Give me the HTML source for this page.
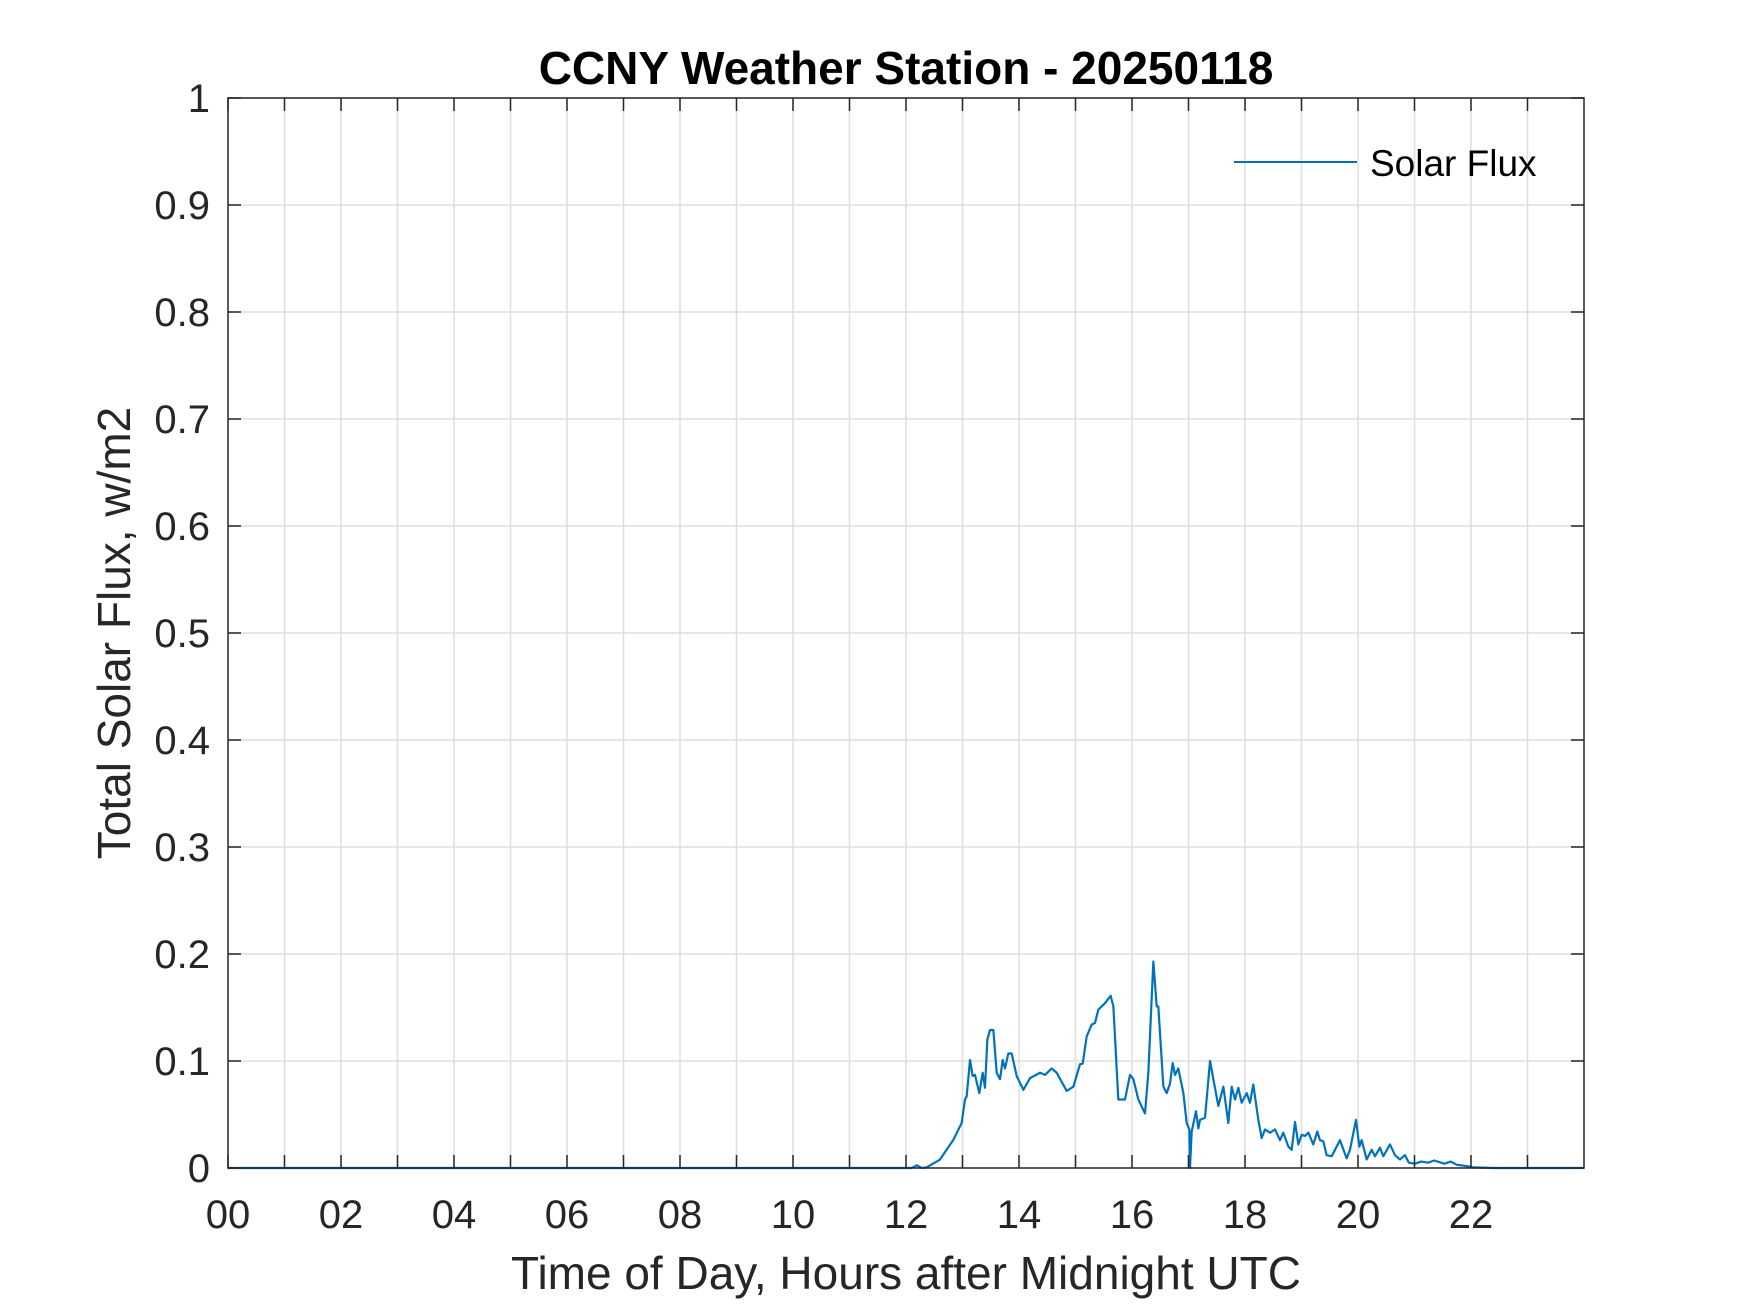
<!DOCTYPE html>
<html><head><meta charset="utf-8"><style>
html,body{margin:0;padding:0;background:#fff;}
svg{display:block;font-family:"Liberation Sans",Arial,sans-serif;}
</style></head><body>
<svg id="chart" width="1750" height="1313" viewBox="0 0 1750 1313" xmlns="http://www.w3.org/2000/svg">
<rect width="1750" height="1313" fill="#fff"/>
<g id="grid"></g>
<g id="series"></g>
<g id="axes"></g>
<text x="906" y="84" text-anchor="middle" font-size="46" font-weight="bold" fill="#000">CCNY Weather Station - 20250118</text>
<text x="906" y="1289" text-anchor="middle" font-size="46" fill="#262626">Time of Day, Hours after Midnight UTC</text>
<text transform="translate(130,633) rotate(-90)" text-anchor="middle" font-size="46" fill="#262626">Total Solar Flux, w/m2</text>
<g>
<line x1="1234" y1="162" x2="1357" y2="162" stroke="#0072BD" stroke-width="2"/>
<text x="1370" y="176" font-size="37" fill="#000">Solar Flux</text>
</g>
</svg>
<script>
const xTickLabels = ["00","02","04","06","08","10","12","14","16","18","20","22"];
const xTickValues = [0,2,4,6,8,10,12,14,16,18,20,22];
const yTickValues = [0,0.1,0.2,0.3,0.4,0.5,0.6,0.7,0.8,0.9,1];
const yTickLabels = ["0","0.1","0.2","0.3","0.4","0.5","0.6","0.7","0.8","0.9","1"];
const hours = [0,12.1,12.19,12.28,12.366,12.60,12.84,12.985,13.044,13.074,13.133,13.18,13.221,13.298,13.357,13.398,13.44,13.487,13.546,13.605,13.664,13.711,13.752,13.811,13.87,13.959,14.077,14.195,14.372,14.46,14.578,14.667,14.844,14.962,15.08,15.127,15.198,15.286,15.345,15.404,15.522,15.622,15.67,15.758,15.876,15.965,16.024,16.112,16.23,16.289,16.378,16.437,16.466,16.555,16.614,16.673,16.72,16.761,16.82,16.909,16.968,17.015,17.027,17.056,17.133,17.174,17.204,17.292,17.381,17.44,17.528,17.617,17.705,17.764,17.823,17.882,17.941,18.03,18.088,18.147,18.236,18.295,18.354,18.442,18.531,18.619,18.678,18.767,18.826,18.885,18.944,19.003,19.062,19.121,19.209,19.28,19.327,19.386,19.445,19.534,19.593,19.681,19.799,19.858,19.965,20.024,20.065,20.153,20.242,20.301,20.389,20.448,20.566,20.655,20.743,20.83,20.9,21.01,21.12,21.24,21.35,21.53,21.64,21.75,21.9,22.04,22.4,24];
const flux = [0,0,0.0025,0,0.0006,0.0078,0.0265,0.042,0.064,0.067,0.101,0.086,0.087,0.070,0.089,0.075,0.120,0.129,0.129,0.089,0.083,0.101,0.093,0.107,0.107,0.086,0.073,0.084,0.089,0.087,0.093,0.089,0.072,0.076,0.097,0.0975,0.123,0.134,0.1355,0.148,0.154,0.161,0.151,0.064,0.064,0.087,0.083,0.064,0.051,0.089,0.193,0.151,0.151,0.076,0.070,0.079,0.098,0.087,0.093,0.070,0.042,0.036,0,0.034,0.053,0.037,0.045,0.047,0.100,0.083,0.058,0.076,0.042,0.076,0.064,0.075,0.061,0.070,0.061,0.078,0.045,0.028,0.036,0.033,0.036,0.026,0.033,0.020,0.017,0.043,0.022,0.031,0.030,0.033,0.022,0.034,0.026,0.025,0.012,0.011,0.017,0.026,0.009,0.017,0.045,0.020,0.026,0.008,0.017,0.011,0.019,0.011,0.022,0.012,0.008,0.012,0.005,0.004,0.006,0.005,0.007,0.004,0.006,0.003,0.002,0.0006,0,0];

const L=228,R=1584,T=98,B=1168;
const xs=h=>L+(R-L)*h/24;
const ys=v=>B-(B-T)*v/1;
const NS="http://www.w3.org/2000/svg";
function mk(tag,parent){const e=document.createElementNS(NS,tag);parent.appendChild(e);return e;}
const grid=document.getElementById('grid'),axes=document.getElementById('axes'),series=document.getElementById('series');
for(let h=1;h<24;h++){
  const l=mk('line',grid);
  
  
  l.setAttribute('x1',xs(h));l.setAttribute('x2',xs(h));l.setAttribute('y1',T);l.setAttribute('y2',B);
  l.setAttribute('stroke','#dedede');l.setAttribute('stroke-width','1.5');
}
yTickValues.forEach((v,i)=>{
  const l=mk('line',grid);
  
  
  l.setAttribute('x1',L);l.setAttribute('x2',R);l.setAttribute('y1',ys(v));l.setAttribute('y2',ys(v));
  l.setAttribute('stroke','#dedede');l.setAttribute('stroke-width','1.5');
  const t=mk('line',axes);
  
  
  t.setAttribute('x1',L);t.setAttribute('x2',L+13);t.setAttribute('y1',ys(v));t.setAttribute('y2',ys(v));
  t.setAttribute('stroke','#262626');t.setAttribute('stroke-width','1.5');
  const t2=mk('line',axes);
  
  
  t2.setAttribute('x1',R-13);t2.setAttribute('x2',R);t2.setAttribute('y1',ys(v));t2.setAttribute('y2',ys(v));
  t2.setAttribute('stroke','#262626');t2.setAttribute('stroke-width','1.5');
  const tx=mk('text',axes);
  
  
  tx.setAttribute('x',L-18);tx.setAttribute('y',ys(v)+14);
  tx.setAttribute('text-anchor','end');tx.setAttribute('font-size','40');tx.setAttribute('fill','#262626');
  tx.textContent=yTickLabels[i];
});
for(let h=0;h<24;h++){
  [[B,B-13],[T,T+13]].forEach(p=>{
    const t=mk('line',axes);
    
    
    t.setAttribute('x1',xs(h));t.setAttribute('x2',xs(h));t.setAttribute('y1',p[0]);t.setAttribute('y2',p[1]);
    t.setAttribute('stroke','#262626');t.setAttribute('stroke-width','1.5');
  });
}
xTickValues.forEach((h,i)=>{
  const tx=mk('text',axes);
  
  
  tx.setAttribute('x',xs(h));tx.setAttribute('y',B+60);
  tx.setAttribute('text-anchor','middle');tx.setAttribute('font-size','40');tx.setAttribute('fill','#262626');
  tx.textContent=xTickLabels[i];
});
const box=mk('rect',axes);


box.setAttribute('x',L);box.setAttribute('y',T);box.setAttribute('width',R-L);box.setAttribute('height',B-T);
box.setAttribute('fill','none');box.setAttribute('stroke','#262626');box.setAttribute('stroke-width','1.5');
const path=mk('path',series);


path.setAttribute('d',hours.map((h,i)=>(i?'L':'M')+xs(h).toFixed(2)+' '+ys(flux[i]).toFixed(2)).join(' '));
path.setAttribute('fill','none');path.setAttribute('stroke','#0072BD');path.setAttribute('stroke-width','2.2');path.setAttribute('stroke-linejoin','round');
</script>
</body></html>
